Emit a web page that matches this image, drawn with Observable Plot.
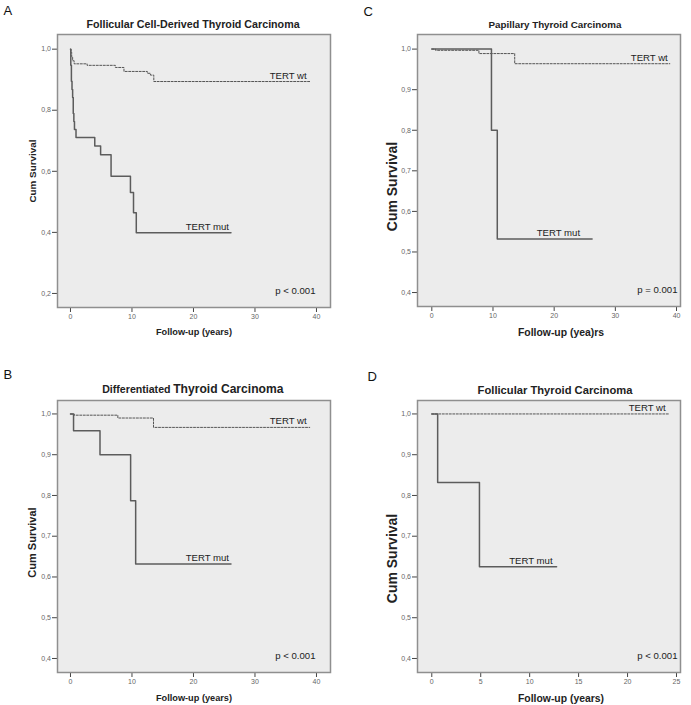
<!DOCTYPE html>
<html><head><meta charset="utf-8">
<script src="https://cdn.jsdelivr.net/npm/d3@7"></script>
<script src="https://cdn.jsdelivr.net/npm/@observablehq/plot@0.6"></script>
<style>
body{margin:0;background:#fff;font-family:"Liberation Sans",Arial,sans-serif}
#wrap{position:relative;width:691px;height:705px;overflow:hidden}
#wrap > div{position:absolute}
</style></head><body><div id="wrap"></div>
<script>
// ---------- data ----------
const groupLabels = ["TERT wt", "TERT mut"];
const xTicks40 = [0, 10, 20, 30, 40];
const xTicks25 = [0, 5, 10, 15, 20, 25];
const yTicksA = [0.2, 0.4, 0.6, 0.8, 1.0];
const yTicksBCD = [0.4, 0.5, 0.6, 0.7, 0.8, 0.9, 1.0];

// Panel A: Follicular Cell-Derived Thyroid Carcinoma
const tA_mut = [0, 0.05, 0.15, 0.25, 0.35, 0.45, 0.55, 0.65, 0.9, 3.95, 4.9, 6.6, 9.75, 10.25, 10.7, 26.1];
const sA_mut = [1.0, 0.947, 0.895, 0.868, 0.842, 0.789, 0.763, 0.737, 0.711, 0.683, 0.654, 0.584, 0.531, 0.464, 0.399, 0.399];
const tA_wt = [0, 0.1, 0.2, 0.35, 0.6, 2.7, 7.3, 8.7, 12.5, 13.0, 13.55, 38.9];
const sA_wt = [1.0, 0.99, 0.975, 0.962, 0.952, 0.947, 0.940, 0.927, 0.921, 0.915, 0.894, 0.894];

// Panel B: Differentiated Thyroid Carcinoma
const tB_mut = [0, 0.5, 4.8, 9.78, 10.6, 26.1];
const sB_mut = [1.0, 0.959, 0.90, 0.787, 0.632, 0.632];
const tB_wt = [0, 0.6, 7.7, 13.5, 38.9];
const sB_wt = [1.0, 0.997, 0.990, 0.967, 0.967];

// Panel C: Papillary Thyroid Carcinoma
const tC_mut = [0, 9.75, 10.7, 26.2];
const sC_mut = [1.0, 0.80, 0.532, 0.532];
const tC_wt = [0, 0.6, 7.7, 13.55, 38.9];
const sC_wt = [1.0, 0.997, 0.989, 0.964, 0.964];

// Panel D: Follicular Thyroid Carcinoma
const tD_mut = [0, 0.6, 4.87, 12.75];
const sD_mut = [1.0, 0.832, 0.625, 0.625];
const tD_wt = [0, 24.2];
const sD_wt = [1.0, 1.0];

const pValues = ["p < 0.001", "p < 0.001", "p = 0.001", "p < 0.001"];

// ---------- drawing ----------
const FONT = "'Liberation Sans', Arial, sans-serif";
const fmtY = d => d3.format(".1f")(d).replace(".", ",");

function panel(o) {
  const last = a => a[a.length - 1];
  const marks = [
    Plot.frame({fill: "#ececec"}),
    Plot.axisY(o.yTicks, {tickSize: 5, tickPadding: 1.5, fontSize: 7, tickFormat: fmtY, label: null, stroke: "#444", fill: "#666"}),
    Plot.axisX(o.xTicks, {tickSize: 5, tickPadding: 2, fontSize: 7, label: null, stroke: "#444", fill: "#666"}),
    Plot.line(o.wt.t, {x: o.wt.t, y: o.wt.s, curve: "step-after", stroke: "#555", strokeWidth: 1, strokeDasharray: "2,1.5"}),
    Plot.line(o.mut.t, {x: o.mut.t, y: o.mut.s, curve: "step-after", stroke: "#5c5c5c", strokeWidth: 1.5}),
    Plot.frame({stroke: "#8f8f8f", strokeWidth: 1.5}),
    Plot.text([groupLabels[0]], {x: [last(o.wt.t)], y: [last(o.wt.s)], textAnchor: "end", lineAnchor: "middle", dx: o.wtDx, dy: -6, fontSize: 9.6, fill: "#222"}),
    Plot.text([groupLabels[1]], {x: [last(o.mut.t)], y: [last(o.mut.s)], textAnchor: "end", lineAnchor: "middle", dx: o.mutDx, dy: -6, fontSize: 9.6, fill: "#222"}),
    Plot.text([o.p], {frameAnchor: "bottom-right", lineAnchor: "middle", textAnchor: "end", dx: o.pDx, dy: -17, fontSize: 9.6, fill: "#222"}),
    Plot.text([o.letter], {frameAnchor: "top-left", textAnchor: "start", lineAnchor: "middle", dx: o.letterDx, dy: o.letterDy, fontSize: 13, fill: "#111"}),
    Plot.text([o.ylabel], {frameAnchor: "left", rotate: -90, textAnchor: "middle", lineAnchor: "middle", dx: -25, dy: o.ylabelDy, fontSize: o.ylabelSize, fontWeight: "bold", fill: "#222"}),
    Plot.text([o.xlabel], {frameAnchor: "bottom", textAnchor: "middle", lineAnchor: "middle", dx: o.xlabelDx, dy: o.xlabelDyOff, fontSize: o.xlabelSize, fontWeight: "bold", fill: "#222"}),
    ...o.title.map(p => Plot.text([p.text], {frameAnchor: "top", textAnchor: p.anchor, lineAnchor: "middle", dx: p.dx, dy: p.dy, fontSize: p.size, fontWeight: "bold", fill: "#222"}))
  ];
  return Plot.plot({
    width: o.width, height: o.height,
    marginLeft: o.ml, marginRight: o.mr, marginTop: 34, marginBottom: o.mb,
    x: {domain: o.xDomain},
    y: {domain: o.yDomain},
    style: {fontFamily: FONT, background: "transparent", overflow: "visible"},
    marks
  });
}

const specs = [
  {left: 0, top: 0, width: 345, height: 340, ml: 57, mr: 15, mb: 33,
   xDomain: [-2.11, 42.28], yDomain: [0.154, 1.048], xTicks: xTicks40, yTicks: yTicksA,
   mut: {t: tA_mut, s: sA_mut}, wt: {t: tA_wt, s: sA_wt},
   wtDx: -3, mutDx: -2, p: pValues[0], pDx: -15,
   letter: "A", letterDx: -54, letterDy: -24,
   ylabel: "Cum Survival", ylabelSize: 9.9, ylabelDy: 0,
   xlabel: "Follow-up (years)", xlabelSize: 9.2, xlabelDx: 0, xlabelDyOff: 25,
   title: [{text: "Follicular Cell-Derived Thyroid Carcinoma", anchor: "middle", dx: -1, dy: -10, size: 10.7}]},
  {left: 0, top: 366, width: 345, height: 339, ml: 57, mr: 15, mb: 33,
   xDomain: [-2.11, 42.28], yDomain: [0.3656, 1.033], xTicks: xTicks40, yTicks: yTicksBCD,
   mut: {t: tB_mut, s: sB_mut}, wt: {t: tB_wt, s: sB_wt},
   wtDx: -3, mutDx: -2, p: pValues[1], pDx: -15,
   letter: "B", letterDx: -54, letterDy: -26,
   ylabel: "Cum Survival", ylabelSize: 11, ylabelDy: 6,
   xlabel: "Follow-up (years)", xlabelSize: 9.2, xlabelDx: 0, xlabelDyOff: 26,
   title: [{text: "Differentiated", anchor: "end", dx: -23.5, dy: -11, size: 10.6},
           {text: "Thyroid Carcinoma", anchor: "start", dx: -20.8, dy: -11, size: 12.1}]},
  {left: 345, top: 0, width: 346, height: 340, ml: 72, mr: 11, mb: 34,
   xDomain: [-2.34, 40.65], yDomain: [0.3656, 1.036], xTicks: xTicks40, yTicks: yTicksBCD,
   mut: {t: tC_mut, s: sC_mut}, wt: {t: tC_wt, s: sC_wt},
   wtDx: -2, mutDx: -12, p: pValues[2], pDx: -3,
   letter: "C", letterDx: -54, letterDy: -23,
   ylabel: "Cum Survival", ylabelSize: 14, ylabelDy: 16,
   xlabel: "Follow-up (yea)rs", xlabelSize: 10.4, xlabelDx: 12, xlabelDyOff: 26,
   title: [{text: "Papillary Thyroid Carcinoma", anchor: "middle", dx: 6, dy: -10, size: 9.8}]},
  {left: 345, top: 366, width: 346, height: 339, ml: 72, mr: 11, mb: 33,
   xDomain: [-1.46, 25.41], yDomain: [0.3656, 1.033], xTicks: xTicks25, yTicks: yTicksBCD,
   mut: {t: tD_mut, s: sD_mut}, wt: {t: tD_wt, s: sD_wt},
   wtDx: -3, mutDx: -4, p: pValues[3], pDx: -3,
   letter: "D", letterDx: -50, letterDy: -24,
   ylabel: "Cum Survival", ylabelSize: 14, ylabelDy: 22,
   xlabel: "Follow-up (years)", xlabelSize: 10.4, xlabelDx: 12, xlabelDyOff: 26,
   title: [{text: "Follicular Thyroid Carcinoma", anchor: "middle", dx: 6, dy: -10, size: 11.2}]}
];

const wrap = document.getElementById("wrap");
for (const s of specs) {
  const div = document.createElement("div");
  div.style.left = s.left + "px";
  div.style.top = s.top + "px";
  div.appendChild(panel(s));
  wrap.appendChild(div);
}
</script>
</body></html>
